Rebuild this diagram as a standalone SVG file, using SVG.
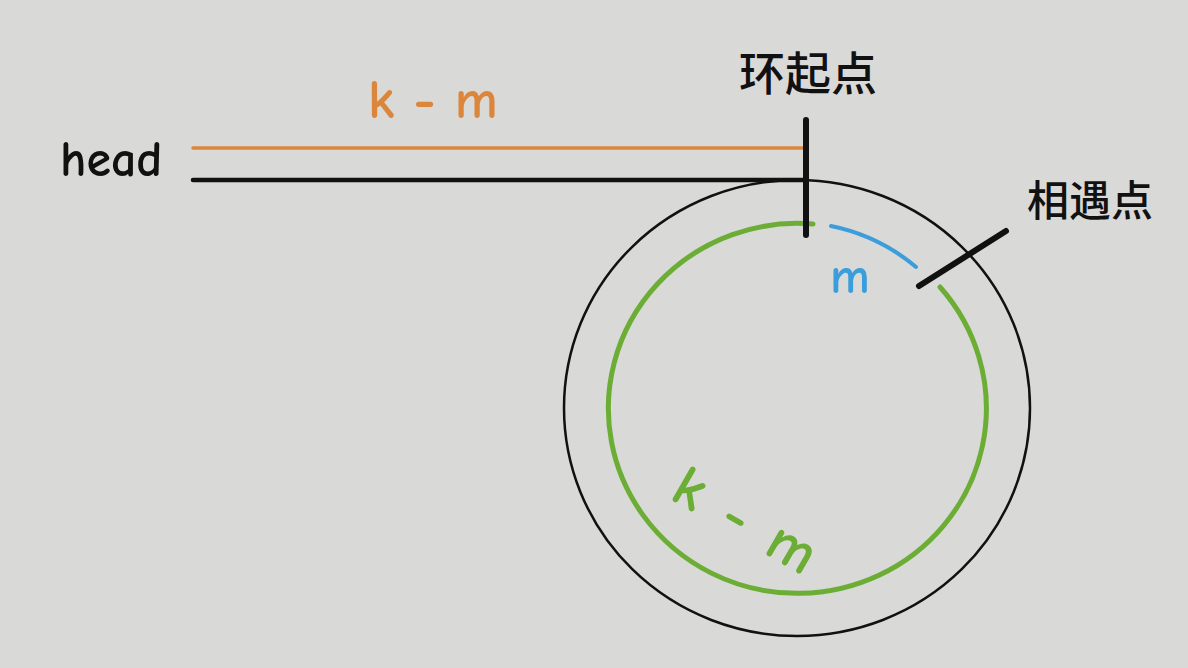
<svg xmlns="http://www.w3.org/2000/svg" width="1188" height="668" viewBox="0 0 1188 668">
<style>
.lbl{font-family:"Comic Neue","Lato","Noto Sans",sans-serif;font-weight:bold}
.cjk{font-family:"Noto Sans CJK SC",sans-serif;font-weight:500;fill:#111}
</style>
<rect width="1188" height="668" fill="#d9d9d7"/>
<g id="loop">
<ellipse cx="797" cy="408" rx="233" ry="228" fill="none" stroke="#111" stroke-width="2.5"/>
</g>
<g id="connectors" stroke-linecap="round" fill="none">
<line x1="193" y1="148" x2="806" y2="148" stroke="#dc863c" stroke-width="3.5"/>
<line x1="193" y1="180" x2="806" y2="180" stroke="#111" stroke-width="4.5"/>
<path d="M813,224 A189,185 0 1 0 940,287" stroke="#6cae35" stroke-width="5"/>
<path d="M831,226 A189,185 0 0 1 916,267" stroke="#3b9ddc" stroke-width="4"/>
<line x1="806" y1="120" x2="806" y2="235" stroke="#111" stroke-width="6"/>
<line x1="919" y1="286" x2="1006" y2="231" stroke="#111" stroke-width="6"/>
</g>
<g id="head"><text class="lbl" x="60" y="176" font-size="50" fill="#111">head</text></g>
<g id="km-top"><text class="lbl" x="368" y="118" font-size="54" fill="#dc863c">k - m</text></g>
<g id="start"><text class="cjk" x="739" y="90" font-size="46">环起点</text></g>
<g id="meet"><text class="cjk" x="1027" y="216" font-size="42">相遇点</text></g>
<g id="m-blue"><text class="lbl" x="830" y="293" font-size="50" fill="#3b9ddc">m</text></g>
<g id="km-green"><text class="lbl" x="0" y="0" font-size="60" fill="#6cae35" letter-spacing="3" transform="translate(668,498) rotate(30)">k - m</text></g>
</svg>
